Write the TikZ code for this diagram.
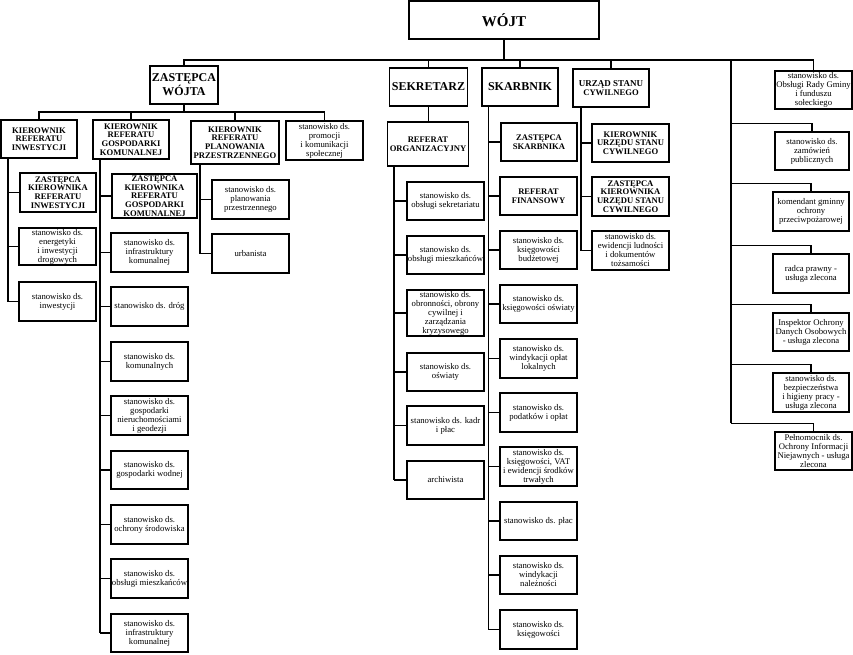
\documentclass[tikz,border=0pt]{standalone}
\usepackage{fontspec}
\setmainfont{Liberation Serif}
\tikzset{
  box/.style={draw, line width=1.3pt, align=center, inner sep=0pt, fill=white,
    font={\fontsize{8.7}{9}\selectfont}},
  hb/.style={box, font={\bfseries\fontsize{8.6}{8.7}\selectfont}},
  hbt/.style={hb, line width=1.8pt},
  big/.style={box, line width=1.4pt, font={\bfseries\fontsize{12}{12.5}\selectfont}},
  ln/.style={line width=1.1pt}
}
\newcommand\bx[7]{\node[#1, minimum width=#5pt, minimum height=#6pt] (#2) at (#3,#4) {#7};}
\begin{document}
\begin{tikzpicture}[x=1pt,y=-1pt]
\useasboundingbox[fill=white] (0,0) rectangle (853,654);
% top level
\bx{big}{wojt}{504}{20}{190}{38}{\fontsize{15}{15}\selectfont WÓJT}
\bx{big}{zw}{184}{85}{68}{38}{ZASTĘPCA\\WÓJTA}
\bx{big}{sek}{428.5}{87}{78}{38}{SEKRETARZ}
\bx{big}{skarb}{520}{87}{76}{38}{SKARBNIK}
\bx{hb}{usc}{611}{88}{76}{38}{\fontsize{9}{10}\selectfont URZĄD STANU\\CYWILNEGO}
% right column
\bx{box}{rb1}{813.5}{90}{77}{38}{stanowisko ds.\\Obsługi Rady Gminy\\i funduszu\\sołeckiego}
\bx{box}{rb2}{812}{151}{74}{38}{stanowisko ds.\\zamówień\\publicznych}
\bx{box}{rb3}{811}{211.5}{76}{39}{komendant gminny\\ochrony\\przeciwpożarowej}
\bx{box}{rb4}{811}{273.5}{76}{39}{radca prawny -\\usługa zlecona}
\bx{box}{rb5}{811}{332}{76}{38}{Inspektor Ochrony\\Danych Osobowych\\- usługa zlecona}
\bx{box}{rb6}{811}{392.5}{76}{39}{stanowisko ds.\\bezpieczeństwa\\i higieny pracy -\\usługa zlecona}
\bx{box}{rb7}{813.5}{451}{77}{38}{Pełnomocnik ds.\\Ochrony Informacji\\Niejawnych - usługa\\zlecona}
% zastepca wojta branch
\bx{hb}{kri}{39}{139}{76}{38}{KIEROWNIK\\REFERATU\\INWESTYCJI}
\bx{hb}{krgk}{131}{139.5}{76}{39}{KIEROWNIK\\REFERATU\\GOSPODARKI\\KOMUNALNEJ}
\bx{hb}{krpp}{235}{142.5}{88}{43}{KIEROWNIK\\REFERATU\\PLANOWANIA\\PRZESTRZENNEGO}
\bx{box}{prom}{324.5}{140.5}{77}{39}{stanowisko ds.\\promocji\\i komunikacji\\społecznej}
\bx{hbt}{inw1}{58}{192.5}{76}{39}{ZASTĘPCA\\KIEROWNIKA\\REFERATU\\INWESTYCJI}
\bx{box}{inw2}{57.5}{246.5}{77}{37}{stanowisko ds.\\energetyki\\i inwestycji\\drogowych}
\bx{box}{inw3}{57.5}{301.5}{77}{39}{stanowisko ds.\\inwestycji}
\bx{hbt}{gk1}{154.5}{196}{85}{44}{ZASTĘPCA\\KIEROWNIKA\\REFERATU\\GOSPODARKI\\KOMUNALNEJ}
\bx{box}{gk2}{149.5}{252.5}{77}{39}{stanowisko ds.\\infrastruktury\\komunalnej}
\bx{box}{gk3}{149.5}{306.5}{77}{39}{stanowisko ds. dróg}
\bx{box}{gk4}{149.5}{361.5}{77}{39}{stanowisko ds.\\komunalnych}
\bx{box}{gk5}{149.5}{415.5}{77}{39}{stanowisko ds.\\gospodarki\\nieruchomościami\\i geodezji}
\bx{box}{gk6}{149.5}{470}{77}{38}{stanowisko ds.\\gospodarki wodnej}
\bx{box}{gk7}{149.5}{524.5}{77}{39}{stanowisko ds.\\ochrony środowiska}
\bx{box}{gk8}{149.5}{578.5}{77}{39}{stanowisko ds.\\obsługi mieszkańców}
\bx{box}{gk9}{149.5}{633}{77}{38}{stanowisko ds.\\infrastruktury\\komunalnej}
\bx{box}{pp1}{250.5}{199.5}{77}{39}{stanowisko ds.\\planowania\\przestrzennego}
\bx{box}{pp2}{250.5}{253.5}{77}{39}{urbanista}
% sekretarz branch
\bx{hb}{ro}{428}{144}{81}{44}{REFERAT\\ORGANIZACYJNY}
\bx{box}{sk1}{445.5}{201}{77}{38}{stanowisko ds.\\obsługi sekretariatu}
\bx{box}{sk2}{445.5}{255}{77}{38}{stanowisko ds.\\obsługi mieszkańców}
\bx{box}{sk3}{445.5}{313}{77}{46}{stanowisko ds.\\obronności, obrony\\cywilnej i\\zarządzania\\kryzysowego}
\bx{box}{sk4}{445.5}{372}{77}{38}{stanowisko ds.\\oświaty}
\bx{box}{sk5}{445.5}{425.5}{77}{39}{stanowisko ds. kadr\\i płac}
\bx{box}{sk6}{445.5}{480}{77}{38}{archiwista}
% skarbnik branch
\bx{hb}{zs}{539}{142}{76}{38}{ZASTĘPCA\\SKARBNIKA}
\bx{hbt}{rf}{538.5}{196}{77}{38}{REFERAT\\FINANSOWY}
\bx{box}{sb1}{538.5}{250}{77}{38}{stanowisko ds.\\księgowości\\budżetowej}
\bx{box}{sb2}{538.5}{304}{77}{38}{stanowisko ds.\\księgowości oświaty}
\bx{box}{sb3}{538.5}{358.5}{77}{39}{stanowisko ds.\\windykacji opłat\\lokalnych}
\bx{box}{sb4}{538.5}{412.5}{77}{39}{stanowisko ds.\\podatków i opłat}
\bx{box}{sb5}{538.5}{466.5}{77}{39}{stanowisko ds.\\księgowości, VAT\\i ewidencji środków\\trwałych}
\bx{box}{sb6}{538.5}{521}{77}{38}{stanowisko ds. płac}
\bx{box}{sb7}{538.5}{575}{77}{38}{stanowisko ds.\\windykacji\\należności}
\bx{box}{sb8}{538.5}{629.5}{77}{39}{stanowisko ds.\\księgowości}
% usc branch
\bx{hbt}{kusc}{630.5}{143}{77}{38}{KIEROWNIK\\URZĘDU STANU\\CYWILNEGO}
\bx{hbt}{zusc}{630.5}{196.5}{77}{39}{ZASTĘPCA\\KIEROWNIKA\\URZĘDU STANU\\CYWILNEGO}
\bx{box}{ew}{630.5}{250.5}{77}{39}{stanowisko ds.\\ewidencji ludności\\i dokumentów\\tożsamości}
% ---- connectors
\coordinate (barL) at (184,60);
\coordinate (vR) at (731,60);
\coordinate (zb) at (184,112);
\coordinate (vI) at (8,0);
\coordinate (vG) at (100,0);
\coordinate (vP) at (200,0);
\coordinate (vS) at (394,0);
\coordinate (vK) at (488.5,0);
\coordinate (vU) at (581,0);
\draw[ln] (wojt.south) -- (wojt.south |- barL);
\draw[ln] (zw.north) -- (zw.north |- barL) -- (rb1.north |- barL) -- (rb1.north);
\foreach \n in {sek,skarb,usc} \draw[ln] (\n.north) -- (\n.north |- barL);
% right column
\foreach \n in {2,...,7} \draw[ln] (rb\n.north) -- ++(0,-8) coordinate (t\n) -- (t\n -| vR);
\draw[ln] (vR) -- (vR |- t7);
% zastepca wojta
\draw[ln] (zw.south) -- (zb);
\draw[ln] (kri.north) -- (kri.north |- zb) -- (prom.north |- zb) -- (prom.north);
\draw[ln] (krgk.north) -- (krgk.north |- zb);
\draw[ln] (krpp.north) -- (krpp.north |- zb);
\draw[ln] (kri.south -| vI) -- (inw3.west -| vI);
\foreach \n in {1,2,3} \draw[ln] (inw\n.west -| vI) -- (inw\n.west);
\draw[ln] (krgk.south -| vG) -- (gk9.west -| vG);
\foreach \n in {1,...,9} \draw[ln] (gk\n.west -| vG) -- (gk\n.west);
\draw[ln] (krpp.south -| vP) -- (pp2.west -| vP);
\foreach \n in {1,2} \draw[ln] (pp\n.west -| vP) -- (pp\n.west);
% sekretarz
\draw[ln] (sek.south) -- (sek.south |- ro.north);
\draw[ln] (ro.south -| vS) -- (sk6.west -| vS);
\foreach \n in {1,...,6} \draw[ln] (sk\n.west -| vS) -- (sk\n.west);
% skarbnik
\draw[ln] (skarb.south -| vK) -- (sb8.west -| vK);
\draw[ln] (zs.west -| vK) -- (zs.west);
\draw[ln] (rf.west -| vK) -- (rf.west);
\foreach \n in {1,...,8} \draw[ln] (sb\n.west -| vK) -- (sb\n.west);
% usc
\draw[ln] (usc.south -| vU) -- (ew.west -| vU);
\foreach \n in {kusc,zusc,ew} \draw[ln] (\n.west -| vU) -- (\n.west);
\end{tikzpicture}
\end{document}
